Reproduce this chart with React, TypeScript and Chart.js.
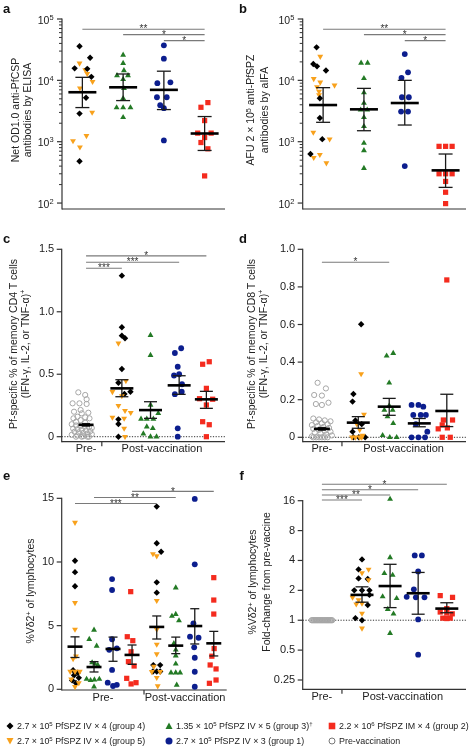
import React, { useEffect, useRef } from "react";
import { Chart, registerables } from "chart.js";

Chart.register(...registerables);

const FONT = '"Liberation Sans", Arial, Helvetica, sans-serif';

// ---------------- Panel a ----------------
const A_YTICKS = [100, 1000, 10000, 100000];
const A_YSUP = ["2", "3", "4", "5"];
const A_MINOR = [200, 300, 400, 500, 600, 700, 800, 900, 2000, 3000, 4000, 5000, 6000, 7000, 8000, 9000, 20000, 30000, 40000, 50000, 60000, 70000, 80000, 90000];
const A_G4 = [36000, 15700, 23400, 15400, 11400, 5200, 2870, 480];
const A_G4_DX = [-0.07, -0.19, 0.19, 0.12, 0.22, 0.09, -0.07, -0.07];
const A_G5 = [19000, 14800, 12800, 9500, 7450, 3000, 1250, 1030, 813];
const A_G5_DX = [-0.07, 0.07, 0.12, 0.25, -0.06, 0.24, 0.1, -0.23, -0.06];
const A_G3 = [25900, 19000, 14500, 12000, 12000, 10400, 7400, 5100, 3600, 3600, 3600, 2500];
const A_G3_DX = [0, 0, 0.02, -0.15, 0.12, 0, 0.02, 0, -0.16, 0, 0.18, 0];
const A_G1 = [37200, 22600, 9000, 9300, 5300, 5300, 3940, 3520, 1050];
const A_G1_DX = [0, 0, -0.16, 0.16, -0.17, 0.07, -0.09, 0, 0];
const A_G2 = [4340, 3640, 2210, 1380, 1380, 1170, 970, 766, 277];
const A_G2_DX = [0.08, -0.09, 0, -0.17, 0.16, 0, -0.09, 0.08, 0];
const A_MEAN = [6400, 7700, 7000, 1360];
const A_LO = [3600, 4680, 3340, 720];
const A_HI = [11200, 12700, 14100, 2570];
const A_BRACKETS: [number, number, number, string][] = [[0, 3, 68000, "**"], [1, 3, 55600, "*"], [2, 3, 44400, "*"]];

// ---------------- Panel b ----------------
const B_G4 = [34500, 18500, 16900, 14500, 5100, 2430, 1100, 630];
const B_G4_DX = [-0.16, -0.24, -0.15, 0.07, -0.08, -0.08, -0.02, -0.31];
const B_G5 = [24500, 10600, 9300, 7800, 8300, 6600, 5800, 1420, 1100, 615, 550, 450];
const B_G5_DX = [-0.07, -0.23, -0.07, -0.15, 0.28, -0.1, -0.1, -0.24, 0.16, -0.08, -0.23, 0.08];
const B_G3 = [19200, 19200, 10800, 6300, 4250, 3300, 3300, 2500, 1780, 950, 720, 370];
const B_G3_DX = [-0.07, 0.09, 0, 0, 0, -0.08, 0.08, 0, 0, 0, 0, 0];
const B_G1 = [26800, 13500, 11000, 5300, 5300, 3100, 3100, 400];
const B_G1_DX = [0, 0.08, -0.08, -0.07, 0.1, -0.09, 0.08, 0];
const B_G2 = [840, 840, 840, 300, 300, 300, 225, 150, 98];
const B_G2_DX = [-0.16, 0, 0.16, -0.16, 0, 0.16, 0, 0, 0];
const B_MEAN = [3960, 3370, 4270, 341];
const B_LO = [2070, 1510, 1870, 180];
const B_HI = [7600, 7400, 10000, 630];
const B_BRACKETS: [number, number, number, string][] = [[0, 3, 68000, "**"], [1, 3, 55600, "*"], [2, 3, 44400, "*"]];

// ---------------- Panel c ----------------
const C_YTICKS = [0, 0.5, 1.0, 1.5];
const C_YLABELS = ["0", "0.5", "1.0", "1.5"];
const C_PRE = [0.355, 0.334, 0.3, 0.267, 0.267, 0.262, 0.214, 0.2, 0.192, 0.187, 0.16, 0.155, 0.147, 0.147, 0.133, 0.12, 0.112, 0.1, 0.09, 0.085, 0.08, 0.075, 0.07, 0.065, 0.06, 0.055, 0.05, 0.045, 0.04, 0.035, 0.03, 0.025, 0.02, 0.015, 0.01, 0.005, 0, 0, 0, 0];
const C_PRE_DX = [-0.27, -0.03, 0.02, -0.47, -0.23, 0.02, -0.19, -0.42, 0.08, -0.15, -0.3, -0.03, -0.44, 0.12, -0.19, -0.35, -0.03, -0.5, -0.35, -0.2, -0.05, 0.1, 0.2, -0.45, -0.3, -0.15, 0, 0.15, -0.4, -0.25, -0.1, 0.05, 0.2, -0.5, -0.3, -0.1, 0.1, -0.35, -0.15, 0.05];
const C_G4 = [1.289, 0.876, 0.809, 0.788, 0.542, 0.432, 0.342, 0.36, 0.139, 0.102, 0];
const C_G4_DX = [0, 0, 0, 0.11, 0, -0.12, 0.09, 0.3, -0.12, -0.12, -0.12];
const C_G5 = [0.748, 0.448, 0.36, 0.326, 0.248, 0.208, 0.192, 0.155, 0.147, 0.067, 0];
const C_G5_DX = [-0.12, 0.14, -0.33, 0, -0.12, 0.11, 0.31, -0.33, 0.08, 0.08, 0.11];
const C_G3 = [0.812, 0.652, 0.254, 0.187, 0.142, 0.142, 0.142, 0.08, 0.067, 0.024, 0, 0];
const C_G3_DX = [0, 0, 0, 0.27, -0.33, -0.13, 0.1, -0.13, 0.08, -0.25, 0, 0.21];
const C_G1 = [0.708, 0.67, 0.56, 0.49, 0.5, 0.42, 0.34, 0.36, 0.067, 0];
const C_G1_DX = [0.07, -0.15, -0.05, -0.18, 0, 0.1, -0.15, 0.09, -0.05, -0.05];
const C_G2 = [0.58, 0.6, 0.387, 0.304, 0.3, 0.254, 0.12, 0.096, 0];
const C_G2_DX = [-0.13, 0.1, 0, -0.24, 0.22, 0, -0.13, 0.1, 0];
const C_MEAN = [0.095, 0.387, 0.213, 0.411, 0.299];
const C_LO = [0.085, 0.32, 0.147, 0.339, 0.227];
const C_HI = [0.105, 0.456, 0.28, 0.488, 0.363];
const C_BRACKETS: [number, number, number, string][] = [[0, 4, 1.447, "*"], [0, 3, 1.396, "***"], [0, 1, 1.348, "***"]];

// ---------------- Panel d ----------------
const D_YTICKS = [0, 0.2, 0.4, 0.6, 0.8, 1.0];
const D_YLABELS = ["0", "0.2", "0.4", "0.6", "0.8", "1.0"];
const D_PRE = [0.29, 0.26, 0.222, 0.225, 0.177, 0.172, 0.184, 0.1, 0.095, 0.09, 0.085, 0.08, 0.075, 0.07, 0.065, 0.06, 0.055, 0.05, 0.045, 0.04, 0.035, 0.03, 0.025, 0.02, 0.015, 0.01, 0.005, 0, 0, 0, 0, 0, 0];
const D_PRE_DX = [-0.15, 0.14, 0, -0.27, -0.21, 0, 0.23, -0.3, -0.1, 0.1, 0.3, -0.2, 0, 0.2, -0.35, -0.15, 0.05, 0.25, -0.3, -0.1, 0.1, 0.3, -0.25, -0.05, 0.15, 0.35, -0.35, -0.2, 0, 0.2, -0.3, -0.1, 0.1];
const D_G4 = [0.601, 0.23, 0.19, 0.09, 0.07, 0.03, 0, 0, 0];
const D_G4_DX = [0.1, -0.17, -0.2, -0.1, 0.12, -0.2, -0.17, 0.02, 0.24];
const D_G5 = [0.337, 0.122, 0.07, 0.04, 0.01, 0, 0, 0, 0];
const D_G5_DX = [0.1, 0.2, -0.05, 0.05, 0.15, -0.1, 0.05, 0.12, -0.22];
const D_G3 = [0.447, 0.433, 0.29, 0.168, 0.145, 0.145, 0.11, 0.074, 0.01, 0, 0];
const D_G3_DX = [0.14, -0.09, 0, 0, -0.17, 0.12, -0.06, 0.14, -0.23, 0.02, 0.26];
const D_G1 = [0.172, 0.172, 0.163, 0.119, 0.119, 0.119, 0.07, 0.03, 0, 0, 0];
const D_G1_DX = [-0.27, -0.03, 0.14, -0.21, 0.05, 0.23, -0.12, 0.28, -0.27, -0.03, 0.2];
const D_G2 = [0.837, 0.092, 0.092, 0.066, 0.045, 0.05, 0, 0];
const D_G2_DX = [0, -0.12, 0.2, -0.16, -0.3, 0.02, -0.16, 0.12];
const D_MEAN = [0.045, 0.078, 0.163, 0.074, 0.14];
const D_LO = [0.038, 0.048, 0.117, 0.056, 0.057];
const D_HI = [0.052, 0.11, 0.207, 0.1, 0.229];
const D_BRACKETS: [number, number, number, string][] = [[0, 2, 0.931, "*"]];

// ---------------- Panel e ----------------
const E_YTICKS = [0, 5, 10, 15];
const E_YLABELS = ["0", "5", "10", "15"];
const E_PRE_G4 = [10.1, 9.2, 8.1, 1.5, 1.3, 1.1, 0.9, 0.7, 0.5];
const E_PRE_G4_DX = [0, 0, 0, -0.1, 0.15, -0.05, 0.2, -0.15, 0.05];
const E_PRE_G5 = [13.1, 6.8, 4.7, 2.6, 2.4, 1.4, 1.4, 1.4, 0.8, 0.5, 0.2];
const E_PRE_G5_DX = [0, 0, 0, 0.05, -0.1, -0.25, 0, 0.25, -0.2, 0.2, 0];
const E_PRE_G3 = [4.66, 3.93, 3.4, 2.1, 2.0, 1.9, 0.8, 0.7, 0.75, 0.8, 0.2];
const E_PRE_G3_DX = [0, -0.25, 0.14, -0.1, 0.05, 0.2, -0.39, -0.18, 0.02, 0.28, 0];
const E_PRE_G1 = [8.66, 7.8, 3.93, 3.22, 3.1, 1.52, 0.52, 0.26, 0.35];
const E_PRE_G1_DX = [-0.05, -0.05, -0.05, 0.2, -0.2, -0.05, -0.28, 0, 0.2];
const E_PRE_G2 = [7.67, 4.13, 3.82, 2.95, 2.17, 1.83, 0.86, 0.42, 0.52];
const E_PRE_G2_DX = [-0.07, -0.25, 0.04, -0.05, -0.19, 0.11, -0.28, -0.05, 0.21];
const E_POST_G4 = [14.35, 11.47, 10.81, 8.4, 7.59, 1.9, 1.9, 1.4, 1.4, 1.4];
const E_POST_G4_DX = [0, 0, 0.23, 0, 0, -0.18, 0.18, 0, -0.2, 0.18];
const E_POST_G5 = [10.63, 10.47, 6.96, 4.7, 3.53, 2.77, 1.8, 1.38, 1.38, 0.91, 0.26];
const E_POST_G5_DX = [-0.2, 0, 0, 0, 0, 0, -0.15, -0.26, 0.18, 0, 0.05];
const E_POST_G3 = [7.98, 5.9, 5.75, 5.4, 3.6, 3.1, 2.64, 2.0, 1.3, 1.3, 1.3, 0.34];
const E_POST_G3_DX = [0, 0, -0.2, 0.17, -0.1, 0, 0, 0, -0.25, 0, 0.23, 0.05];
const E_POST_G1 = [14.95, 9.82, 5.18, 4.13, 4.05, 3.3, 2.48, 1.38, 0.2];
const E_POST_G1_DX = [0, 0, -0.07, -0.25, 0.2, -0.03, 0, 0, 0];
const E_POST_G2 = [8.77, 7.01, 5.91, 3.2, 2.6, 1.91, 1.6, 0.47, 0.73];
const E_POST_G2_DX = [0, 0, 0, 0.02, -0.1, -0.19, 0.12, -0.23, 0.12];
const E_MEAN = [3.35, 1.75, 3.17, 2.7, 4.9, 3.43, 4.97, 3.61];
const E_LO = [2.5, 1.36, 2.2, 1.96, 3.95, 2.8, 3.56, 2.62];
const E_HI = [4.12, 2.17, 4.1, 3.48, 5.76, 4.1, 6.33, 4.55];
const E_BRACKETS: [number, number, number, string][] = [[3, 7, 15.55, "*"], [1, 5, 15.07, "**"], [0, 4, 14.6, "***"]];

// ---------------- Panel f ----------------
const F_YTICKS = [0.25, 0.5, 1, 2, 4, 8, 16];
const F_YLABELS = ["0.25", "0.5", "1", "2", "4", "8", "16"];
const F_PRE = [1, 1, 1, 1, 1, 1, 1, 1, 1, 1, 1, 1, 1, 1, 1, 1, 1, 1, 1, 1, 1, 1, 1, 1, 1];
const F_PRE_DX = [-0.36, -0.33, -0.3, -0.27, -0.24, -0.21, -0.18, -0.15, -0.12, -0.09, -0.06, -0.03, 0, 0.03, 0.06, 0.09, 0.12, 0.15, 0.18, 0.21, 0.24, 0.27, 0.3, 0.33, 0.36];
const F_G4 = [4.1, 3.25, 2.64, 2.6, 2.0, 2.0, 2.0, 1.8, 1.42, 1.05, 1.0];
const F_G4_DX = [0, -0.12, -0.12, 0.2, -0.27, 0, 0.26, 0.26, 0.2, -0.23, 0];
const F_G5 = [3.25, 3.0, 2.55, 1.7, 1.6, 1.48, 1.45, 1.17, 0.83];
const F_G5_DX = [0.23, 0, 0.23, -0.33, -0.12, 0, -0.2, 0, 0];
const F_G3 = [16.6, 4.29, 2.97, 2.85, 1.73, 1.66, 1.29, 1.16, 0.74];
const F_G3_DX = [0, 0, -0.2, 0.09, -0.26, 0.23, -0.08, 0.12, 0];
const F_G1 = [4.5, 4.5, 3.1, 2.05, 1.72, 1.7, 1.7, 1.02, 0.45];
const F_G1_DX = [-0.12, 0.13, 0, -0.15, -0.4, -0.08, 0.22, 0, 0];
const F_G2 = [1.77, 1.7, 1.31, 1.21, 1.18, 1.16, 1.05, 1.05, 1.04];
const F_G2_DX = [-0.23, 0.2, 0, -0.23, 0, 0.19, -0.14, 0.12, 0];
const F_MEAN: (number | null)[] = [null, 1.8, 2.21, 1.87, 1.31];
const F_LO = [1, 1.52, 1.34, 1.15, 1.19];
const F_HI = [1, 2.17, 3.66, 3.03, 1.5];
const F_BRACKETS: [number, number, number, string][] = [[0, 4, 23.4, "*"], [0, 3, 20.6, "*"], [0, 2, 18.25, "**"], [0, 1, 16.25, "***"]];

const X_LABELS = ["Pre-", "Post-vaccination"];

// ---------------- styles ----------------
type GroupKey = "g4" | "g5" | "g3" | "g1" | "g2" | "pre";
const COLORS: Record<GroupKey, string> = {
  g4: "#000000",
  g5: "#F8A11C",
  g3: "#237A25",
  g1: "#0C1E8E",
  g2: "#F42B1E",
  pre: "#A6A6A6",
};
const POINT: Record<GroupKey, { style: string; rot: number; r: number }> = {
  g4: { style: "rectRot", rot: 0, r: 3.2 },
  g5: { style: "triangle", rot: 180, r: 3.4 },
  g3: { style: "triangle", rot: 0, r: 3.4 },
  g1: { style: "circle", rot: 0, r: 2.9 },
  g2: { style: "rect", rot: 0, r: 3.7 },
  pre: { style: "circle", rot: 0, r: 2.6 },
};

interface GroupDef { key: GroupKey; col: number; values: number[]; dx: number[] }
interface PanelCfg {
  left: number; top: number; w: number; h: number;
  padTop: number; padRight: number; yWidth: number; xHeight: number;
  yType: "linear" | "logarithmic"; yMin: number; yMax: number;
  yTicks: number[]; yLabels: string[] | null; ySup: string[] | null; yMinor: number[]; yTop: number;
  xMax: number; pos: number[]; groups: GroupDef[];
  mean: (number | null)[]; lo: number[]; hi: number[];
  meanHalf: number[]; capHalf: number[];
  brackets: [number, number, number, string][];
  refLine: number | null;
  xLabelPos: number[]; sep: number | null;
}

const POS_AB = [0.5, 1.5, 2.5, 3.5];
const POS_C = [0.85, 2.1, 3.1, 4.1, 5.05];
const POS_D = [0.67, 1.94, 3.02, 4.07, 5.03];
const POS_E = [0.7, 1.7, 2.7, 3.7, 5.0, 6.0, 7.0, 8.0];
const POS_F = [0.67, 2.07, 3.05, 4.03, 5.03];

const PANELS: PanelCfg[] = [
  {
    left: 0, top: 0, w: 236, h: 230, padTop: 19, padRight: 11, yWidth: 62, xHeight: 21,
    yType: "logarithmic", yMin: 80, yMax: 100000, yTicks: A_YTICKS, yLabels: null, ySup: A_YSUP, yMinor: A_MINOR, yTop: 100000,
    xMax: 4, pos: POS_AB,
    groups: [
      { key: "g4", col: 0, values: A_G4, dx: A_G4_DX },
      { key: "g5", col: 0, values: A_G5, dx: A_G5_DX },
      { key: "g3", col: 1, values: A_G3, dx: A_G3_DX },
      { key: "g1", col: 2, values: A_G1, dx: A_G1_DX },
      { key: "g2", col: 3, values: A_G2, dx: A_G2_DX },
    ],
    mean: A_MEAN, lo: A_LO, hi: A_HI, meanHalf: [14, 14, 14, 14], capHalf: [7, 7, 7, 7],
    brackets: A_BRACKETS, refLine: null, xLabelPos: [], sep: null,
  },
  {
    left: 236, top: 0, w: 240, h: 230, padTop: 19, padRight: 10, yWidth: 66.7, xHeight: 21,
    yType: "logarithmic", yMin: 80, yMax: 100000, yTicks: A_YTICKS, yLabels: null, ySup: A_YSUP, yMinor: A_MINOR, yTop: 100000,
    xMax: 4, pos: POS_AB,
    groups: [
      { key: "g4", col: 0, values: B_G4, dx: B_G4_DX },
      { key: "g5", col: 0, values: B_G5, dx: B_G5_DX },
      { key: "g3", col: 1, values: B_G3, dx: B_G3_DX },
      { key: "g1", col: 2, values: B_G1, dx: B_G1_DX },
      { key: "g2", col: 3, values: B_G2, dx: B_G2_DX },
    ],
    mean: B_MEAN, lo: B_LO, hi: B_HI, meanHalf: [14, 14, 14, 14], capHalf: [7, 7, 7, 7],
    brackets: B_BRACKETS, refLine: null, xLabelPos: [], sep: null,
  },
  {
    left: 0, top: 230, w: 236, h: 230, padTop: 19.3, padRight: 11, yWidth: 61.7, xHeight: 18.3,
    yType: "linear", yMin: -0.04, yMax: 1.5, yTicks: C_YTICKS, yLabels: C_YLABELS, ySup: null, yMinor: [], yTop: 1.5,
    xMax: 5.7, pos: POS_C,
    groups: [
      { key: "pre", col: 0, values: C_PRE, dx: C_PRE_DX },
      { key: "g5", col: 1, values: C_G5, dx: C_G5_DX },
      { key: "g4", col: 1, values: C_G4, dx: C_G4_DX },
      { key: "g3", col: 2, values: C_G3, dx: C_G3_DX },
      { key: "g1", col: 3, values: C_G1, dx: C_G1_DX },
      { key: "g2", col: 4, values: C_G2, dx: C_G2_DX },
    ],
    mean: C_MEAN, lo: C_LO, hi: C_HI, meanHalf: [7.5, 11.5, 11.5, 11.5, 11.5], capHalf: [4, 6.5, 6.5, 6.5, 6.5],
    brackets: C_BRACKETS, refLine: 0, xLabelPos: [0.85, 3.5], sep: 1.4,
  },
  {
    left: 236, top: 230, w: 240, h: 230, padTop: 19.3, padRight: 10, yWidth: 66.7, xHeight: 18.3,
    yType: "linear", yMin: -0.0234, yMax: 1.0, yTicks: D_YTICKS, yLabels: D_YLABELS, ySup: null, yMinor: [], yTop: 1.0,
    xMax: 5.7, pos: POS_D,
    groups: [
      { key: "pre", col: 0, values: D_PRE, dx: D_PRE_DX },
      { key: "g5", col: 1, values: D_G5, dx: D_G5_DX },
      { key: "g4", col: 1, values: D_G4, dx: D_G4_DX },
      { key: "g3", col: 2, values: D_G3, dx: D_G3_DX },
      { key: "g1", col: 3, values: D_G1, dx: D_G1_DX },
      { key: "g2", col: 4, values: D_G2, dx: D_G2_DX },
    ],
    mean: D_MEAN, lo: D_LO, hi: D_HI, meanHalf: [8, 11.5, 11.5, 11.5, 11.5], capHalf: [4, 6.5, 6.5, 6.5, 6.5],
    brackets: D_BRACKETS, refLine: 0, xLabelPos: [0.67, 3.52], sep: 1.37,
  },
  {
    left: 0, top: 460, w: 236, h: 250, padTop: 20, padRight: 9.3, yWidth: 61.7, xHeight: 20,
    yType: "linear", yMin: -0.055, yMax: 16.44, yTicks: E_YTICKS, yLabels: E_YLABELS, ySup: null, yMinor: [], yTop: 15,
    xMax: 8.68, pos: POS_E,
    groups: [
      { key: "g5", col: 0, values: E_PRE_G5, dx: E_PRE_G5_DX },
      { key: "g4", col: 0, values: E_PRE_G4, dx: E_PRE_G4_DX },
      { key: "g3", col: 1, values: E_PRE_G3, dx: E_PRE_G3_DX },
      { key: "g1", col: 2, values: E_PRE_G1, dx: E_PRE_G1_DX },
      { key: "g2", col: 3, values: E_PRE_G2, dx: E_PRE_G2_DX },
      { key: "g5", col: 4, values: E_POST_G5, dx: E_POST_G5_DX },
      { key: "g4", col: 4, values: E_POST_G4, dx: E_POST_G4_DX },
      { key: "g3", col: 5, values: E_POST_G3, dx: E_POST_G3_DX },
      { key: "g1", col: 6, values: E_POST_G1, dx: E_POST_G1_DX },
      { key: "g2", col: 7, values: E_POST_G2, dx: E_POST_G2_DX },
    ],
    mean: E_MEAN, lo: E_LO, hi: E_HI,
    meanHalf: [7.5, 7.5, 7.5, 7.5, 7.5, 7.5, 7.5, 7.5], capHalf: [4.5, 4.5, 4.5, 4.5, 4.5, 4.5, 4.5, 4.5],
    brackets: E_BRACKETS, refLine: null, xLabelPos: [2.17, 6.49], sep: 4.33,
  },
  {
    left: 236, top: 460, w: 240, h: 250, padTop: 15, padRight: 10, yWidth: 66.7, xHeight: 20.7,
    yType: "logarithmic", yMin: 0.2015, yMax: 29.04, yTicks: F_YTICKS, yLabels: F_YLABELS, ySup: null, yMinor: [], yTop: 16,
    xMax: 5.7, pos: POS_F,
    groups: [
      { key: "pre", col: 0, values: F_PRE, dx: F_PRE_DX },
      { key: "g5", col: 1, values: F_G5, dx: F_G5_DX },
      { key: "g4", col: 1, values: F_G4, dx: F_G4_DX },
      { key: "g3", col: 2, values: F_G3, dx: F_G3_DX },
      { key: "g1", col: 3, values: F_G1, dx: F_G1_DX },
      { key: "g2", col: 4, values: F_G2, dx: F_G2_DX },
    ],
    mean: F_MEAN, lo: F_LO, hi: F_HI, meanHalf: [0, 11.5, 11.5, 11.5, 11.5], capHalf: [0, 6.5, 6.5, 6.5, 6.5],
    brackets: F_BRACKETS, refLine: 1, xLabelPos: [0.67, 3.49], sep: 1.37,
  },
];

function line(ctx: CanvasRenderingContext2D, x1: number, y1: number, x2: number, y2: number) {
  ctx.beginPath();
  ctx.moveTo(x1, y1);
  ctx.lineTo(x2, y2);
  ctx.stroke();
}

function buildConfig(c: PanelCfg): any {
  const datasets = c.groups.map((g) => {
    const p = POINT[g.key];
    const isPre = g.key === "pre";
    return {
      data: g.values.map((v, i) => ({ x: c.pos[g.col] + g.dx[i], y: v })),
      pointStyle: p.style,
      pointRotation: p.rot,
      pointRadius: p.r,
      pointHoverRadius: p.r,
      pointBackgroundColor: isPre ? "rgba(255,255,255,0)" : COLORS[g.key],
      pointBorderColor: COLORS[g.key],
      pointBorderWidth: isPre ? 1 : 0,
      showLine: false,
      clip: false,
    };
  });

  const deco = {
    id: "deco",
    beforeDatasetsDraw(chart: any) {
      const { ctx, chartArea: ca, scales } = chart;
      const x = scales.x;
      const y = scales.y;
      ctx.save();
      ctx.strokeStyle = "#333";
      ctx.lineWidth = 1.2;
      const yTopPx = y.getPixelForValue(c.yTop);
      line(ctx, ca.left, yTopPx - 0.6, ca.left, ca.bottom + 0.6);
      line(ctx, ca.left, ca.bottom, ca.right, ca.bottom);
      c.yTicks.forEach((v) => {
        const py = y.getPixelForValue(v);
        line(ctx, ca.left - 5, py, ca.left, py);
      });
      ctx.lineWidth = 1;
      c.yMinor.forEach((v) => {
        const py = y.getPixelForValue(v);
        line(ctx, ca.left - 3, py, ca.left, py);
      });
      if (c.sep !== null) {
        ctx.lineWidth = 1.2;
        const px = x.getPixelForValue(c.sep);
        line(ctx, px, ca.bottom, px, ca.bottom + 4.5);
      }
      if (c.refLine !== null) {
        ctx.lineWidth = 1;
        ctx.setLineDash([1.2, 1.5]);
        const py = y.getPixelForValue(c.refLine);
        line(ctx, ca.left, py, ca.right, py);
        ctx.setLineDash([]);
      }
      if (c.ySup) {
        ctx.fillStyle = "#222";
        c.yTicks.forEach((v, i) => {
          const py = y.getPixelForValue(v);
          const sup = c.ySup![i];
          ctx.font = `7.5px ${FONT}`;
          const ws = ctx.measureText(sup).width;
          const xr = ca.left - 8.4;
          ctx.textAlign = "left";
          ctx.textBaseline = "alphabetic";
          ctx.fillText(sup, xr - ws, py + 0.5);
          ctx.font = `10.5px ${FONT}`;
          ctx.textAlign = "right";
          ctx.fillText("10", xr - ws, py + 4.5);
        });
      }
      ctx.restore();
    },
    afterDatasetsDraw(chart: any) {
      const { ctx, scales } = chart;
      const x = scales.x;
      const y = scales.y;
      ctx.save();
      c.mean.forEach((m, i) => {
        if (m === null) return;
        const px = x.getPixelForValue(c.pos[i]);
        const pl = y.getPixelForValue(c.lo[i]);
        const ph = y.getPixelForValue(c.hi[i]);
        const pm = y.getPixelForValue(m);
        ctx.strokeStyle = "#1a1a1a";
        ctx.lineWidth = 1.3;
        line(ctx, px, ph, px, pl);
        line(ctx, px - c.capHalf[i], ph, px + c.capHalf[i], ph);
        line(ctx, px - c.capHalf[i], pl, px + c.capHalf[i], pl);
        ctx.strokeStyle = "#000";
        ctx.lineWidth = 2.6;
        line(ctx, px - c.meanHalf[i], pm, px + c.meanHalf[i], pm);
      });
      c.brackets.forEach(([from, to, val, label]) => {
        const x1 = x.getPixelForValue(c.pos[from]);
        const x2 = x.getPixelForValue(c.pos[to]);
        const py = y.getPixelForValue(val);
        ctx.strokeStyle = "#7a7a7a";
        ctx.lineWidth = 1.1;
        line(ctx, x1, py, x2, py);
        ctx.fillStyle = "#333";
        ctx.font = `10px ${FONT}`;
        ctx.textAlign = "center";
        ctx.textBaseline = "alphabetic";
        ctx.fillText(label, (x1 + x2) / 2, py + 3.2);
      });
      ctx.restore();
    },
  };

  return {
    type: "scatter",
    data: { datasets },
    options: {
      responsive: false,
      maintainAspectRatio: false,
      animation: false,
      devicePixelRatio: 1,
      events: [],
      layout: { autoPadding: false, padding: { left: 0, right: c.padRight, top: c.padTop, bottom: 0 } },
      plugins: { legend: { display: false }, tooltip: { enabled: false }, title: { display: false } },
      scales: {
        x: {
          type: "linear",
          min: 0,
          max: c.xMax,
          grid: { display: false, drawTicks: false },
          border: { display: false },
          ticks: {
            display: c.xLabelPos.length > 0,
            padding: 1,
            autoSkip: false,
            maxRotation: 0,
            minRotation: 0,
            color: "#222",
            font: { family: FONT, size: 11 },
            callback: (_v: any, i: number) => X_LABELS[i],
          },
          afterBuildTicks: (s: any) => {
            s.ticks = c.xLabelPos.map((v) => ({ value: v }));
          },
          afterFit: (s: any) => {
            s.height = c.xHeight;
          },
        },
        y: {
          type: c.yType,
          min: c.yMin,
          max: c.yMax,
          grid: { display: false, drawTicks: false },
          border: { display: false },
          ticks: {
            display: c.yLabels !== null,
            padding: 7.5,
            autoSkip: false,
            color: "#222",
            font: { family: FONT, size: 11 },
            callback: (_v: any, i: number) => (c.yLabels ? c.yLabels[i] : ""),
          },
          afterBuildTicks: (s: any) => {
            s.ticks = c.yTicks.map((v) => ({ value: v }));
          },
          afterFit: (s: any) => {
            s.width = c.yWidth;
          },
        },
      },
    },
    plugins: [deco],
  };
}

function Panel({ cfg }: { cfg: PanelCfg }) {
  const ref = useRef<HTMLCanvasElement>(null);
  useEffect(() => {
    const chart = new Chart(ref.current as HTMLCanvasElement, buildConfig(cfg));
    return () => chart.destroy();
  }, [cfg]);
  return (
    <canvas
      ref={ref}
      width={cfg.w}
      height={cfg.h}
      style={{ position: "absolute", left: cfg.left, top: cfg.top, width: cfg.w, height: cfg.h }}
    />
  );
}

const sup = (t: string) => (
  <span style={{ fontSize: "0.68em", position: "relative", top: "-0.45em" }}>{t}</span>
);

function YTitle({ cx, cy, children }: { cx: number; cy: number; children: React.ReactNode }) {
  return (
    <div
      style={{
        position: "absolute",
        left: cx,
        top: cy,
        transform: "translate(-50%, -50%) rotate(-90deg)",
        whiteSpace: "nowrap",
        textAlign: "center",
        fontSize: 10.5,
        lineHeight: "11.5px",
        color: "#222",
      }}
    >
      {children}
    </div>
  );
}

function Letter({ x, y, t }: { x: number; y: number; t: string }) {
  return (
    <div style={{ position: "absolute", left: x, top: y, fontSize: 13, lineHeight: "13px", fontWeight: "bold", color: "#111" }}>{t}</div>
  );
}

function Marker({ kind }: { kind: GroupKey }) {
  const c = COLORS[kind];
  let shape: React.ReactNode = null;
  if (kind === "g4") shape = <polygon points="4,0.5 7.5,4 4,7.5 0.5,4" fill={c} />;
  if (kind === "g5") shape = <polygon points="0.5,1 7.5,1 4,7.5" fill={c} />;
  if (kind === "g3") shape = <polygon points="4,0.5 7.5,7 0.5,7" fill={c} />;
  if (kind === "g1") shape = <circle cx="4" cy="4" r="3.5" fill={c} />;
  if (kind === "g2") shape = <rect x="0.7" y="0.7" width="6.6" height="6.6" fill={c} />;
  if (kind === "pre") shape = <circle cx="4" cy="4" r="3" fill="none" stroke="#777" strokeWidth="1" />;
  return (
    <svg width="8" height="8" style={{ position: "absolute", left: -11, top: -4 }}>
      {shape}
    </svg>
  );
}

function LegendItem({ x, y, kind, children }: { x: number; y: number; kind: GroupKey; children: React.ReactNode }) {
  return (
    <div style={{ position: "absolute", left: x, top: y }}>
      <Marker kind={kind} />
      <div style={{ position: "absolute", left: 0, top: -6, whiteSpace: "nowrap", fontSize: 8.9, lineHeight: "12px", color: "#222" }}>
        {children}
      </div>
    </div>
  );
}

export default function App() {
  return (
    <div
      style={{
        position: "absolute",
        left: 0,
        top: 0,
        width: 476,
        height: 750,
        background: "#fff",
        fontFamily: FONT,
        overflow: "hidden",
      }}
    >
      {PANELS.map((p, i) => (
        <Panel key={i} cfg={p} />
      ))}

      <Letter x={3} y={1.5} t="a" />
      <Letter x={239} y={1.5} t="b" />
      <Letter x={3} y={231.5} t="c" />
      <Letter x={239} y={231.5} t="d" />
      <Letter x={3} y={469} t="e" />
      <Letter x={239.5} y={469} t="f" />

      <YTitle cx={21} cy={110}>
        Net OD1.0 anti-PfCSP
        <br />
        antibodies by ELISA
      </YTitle>
      <YTitle cx={257} cy={110}>
        AFU 2 × 10{sup("5")} anti-PfSPZ
        <br />
        antibodies by aIFA
      </YTitle>
      <YTitle cx={20} cy={344}>
        Pf-specific % of memory CD4 T cells
        <br />
        (IFN-γ, IL-2, or TNF-α){sup("+")}
      </YTitle>
      <YTitle cx={257.5} cy={344}>
        Pf-specific % of memory CD8 T cells
        <br />
        (IFN-γ, IL-2, or TNF-α){sup("+")}
      </YTitle>
      <YTitle cx={32} cy={591}>
        %Vδ2{sup("+")} of lymphocytes
      </YTitle>
      <YTitle cx={258.5} cy={582}>
        %Vδ2{sup("+")} of lymphocytes
        <br />
        Fold-change from pre-vaccine
      </YTitle>

      <LegendItem x={17} y={725.7} kind="g4">
        2.7 × 10{sup("5")} PfSPZ IV × 4 (group 4)
      </LegendItem>
      <LegendItem x={17} y={740.7} kind="g5">
        2.7 × 10{sup("5")} PfSPZ IV × 4 (group 5)
      </LegendItem>
      <LegendItem x={176} y={725.7} kind="g3">
        1.35 × 10{sup("5")} PfSPZ IV × 5 (group 3){sup("†")}
      </LegendItem>
      <LegendItem x={176} y={740.7} kind="g1">
        2.7 × 10{sup("5")} PfSPZ IV × 3 (group 1)
      </LegendItem>
      <LegendItem x={339} y={725.7} kind="g2">
        2.2 × 10{sup("6")} PfSPZ IM × 4 (group 2)
      </LegendItem>
      <LegendItem x={339} y={740.7} kind="pre">
        Pre-vaccination
      </LegendItem>
    </div>
  );
}
